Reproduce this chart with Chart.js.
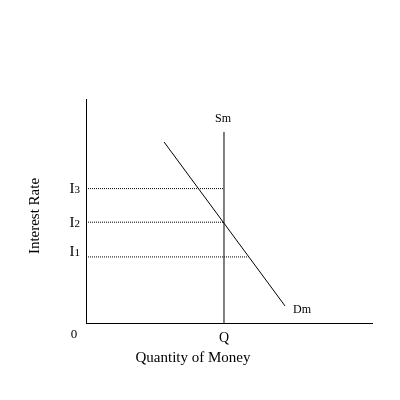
<!DOCTYPE html>
<html><head><meta charset="utf-8">
<style>html,body{margin:0;padding:0;background:#fff}</style>
</head><body>
<canvas id="c" width="400" height="400"></canvas>
<script src="https://cdn.jsdelivr.net/npm/chart.js@4"></script>
<script>
// ---- data ----
const rateLabels = ['I1', 'I2', 'I3'];
const rateValues = [29.5, 45, 60];
const rateLineEnds = [56.7, 48.25, 48.25];
const quantityLabel = 'Q';
const quantityValue = 48.25;
const supplyTop = 85.3;
const supplyLabel = 'Sm';
const demandQuantity = [27.3, 69.6];
const demandRate = [80.8, 7.6];
const demandLabel = 'Dm';
const originLabel = '0';
const xTitle = 'Quantity of Money';
const yTitle = 'Interest Rate';

const SERIF = '"Liberation Serif", "DejaVu Serif", serif';

const datasets = [];
datasets.push({
  label: 'Supply',
  data: [{x: quantityValue, y: 0}, {x: quantityValue, y: supplyTop}],
  borderColor: '#000', borderWidth: 1, showLine: true, pointRadius: 0
});
datasets.push({
  label: 'Demand',
  data: demandQuantity.map((q, i) => ({x: q, y: demandRate[i]})),
  borderColor: '#000', borderWidth: 1, showLine: true, pointRadius: 0
});
rateValues.forEach((r, i) => {
  datasets.push({
    label: rateLabels[i],
    data: [{x: 0, y: r}, {x: rateLineEnds[i], y: r}],
    borderColor: '#000', borderWidth: 1, borderDash: [1, 1],
    showLine: true, pointRadius: 0
  });
});

const labelPlugin = {
  id: 'labels',
  afterDraw(chart) {
    const ctx = chart.ctx;
    const xs = chart.scales.x, ys = chart.scales.y, area = chart.chartArea;
    ctx.save();
    ctx.fillStyle = '#000';
    // rate labels with small digit
    const offs = [-1, 5, 4];
    rateLabels.forEach((lab, i) => {
      const main = lab.slice(0, 1), sub = lab.slice(1);
      const yb = ys.getPixelForValue(rateValues[i]) + offs[i];
      ctx.font = '11px ' + SERIF;
      const ws = ctx.measureText(sub).width;
      ctx.textBaseline = 'alphabetic';
      ctx.textAlign = 'right';
      ctx.fillText(sub, area.left - 6, yb);
      ctx.font = '15px ' + SERIF;
      ctx.fillText(main, area.left - 6 - ws, yb);
    });
    // origin
    ctx.font = '13px ' + SERIF;
    ctx.textAlign = 'center';
    ctx.textBaseline = 'alphabetic';
    ctx.fillText(originLabel, area.left - 12, area.bottom + 15);
    // supply label
    ctx.font = '12px ' + SERIF;
    ctx.fillText(supplyLabel, xs.getPixelForValue(quantityValue) - 1, ys.getPixelForValue(supplyTop) - 9.5);
    // demand label
    ctx.textAlign = 'left';
    ctx.fillText(demandLabel, xs.getPixelForValue(demandQuantity[1]) + 8, ys.getPixelForValue(demandRate[1]) + 7);
    // x title
    ctx.font = '15px ' + SERIF;
    ctx.textAlign = 'center';
    ctx.fillText(xTitle, 193, 362);
    // y title
    ctx.translate(38.5, 216);
    ctx.rotate(-Math.PI / 2);
    ctx.fillText(yTitle, 0, 0);
    ctx.restore();
  }
};

new Chart(document.getElementById('c'), {
  type: 'scatter',
  data: {datasets},
  plugins: [labelPlugin],
  options: {
    responsive: false,
    devicePixelRatio: 1,
    animation: false,
    events: [],
    layout: {padding: {top: 99, right: 28, left: 0, bottom: 0}},
    plugins: {legend: {display: false}, tooltip: {enabled: false}},
    elements: {line: {tension: 0}},
    scales: {
      x: {
        type: 'linear', min: 0, max: 100,
        grid: {display: false, drawTicks: false},
        border: {display: true, color: '#000', width: 1},
        afterBuildTicks: s => { s.ticks = [{value: quantityValue}]; },
        afterFit: s => { s.height = 77; },
        ticks: {
          callback: () => quantityLabel,
          color: '#000', padding: 7, maxRotation: 0, autoSkip: false,
          font: {family: SERIF, size: 14}
        }
      },
      y: {
        type: 'linear', min: 0, max: 100,
        grid: {display: false, drawTicks: false},
        border: {display: true, color: '#000', width: 1},
        ticks: {display: false},
        afterFit: s => { s.width = 86; }
      }
    }
  }
});
</script>
</body></html>
